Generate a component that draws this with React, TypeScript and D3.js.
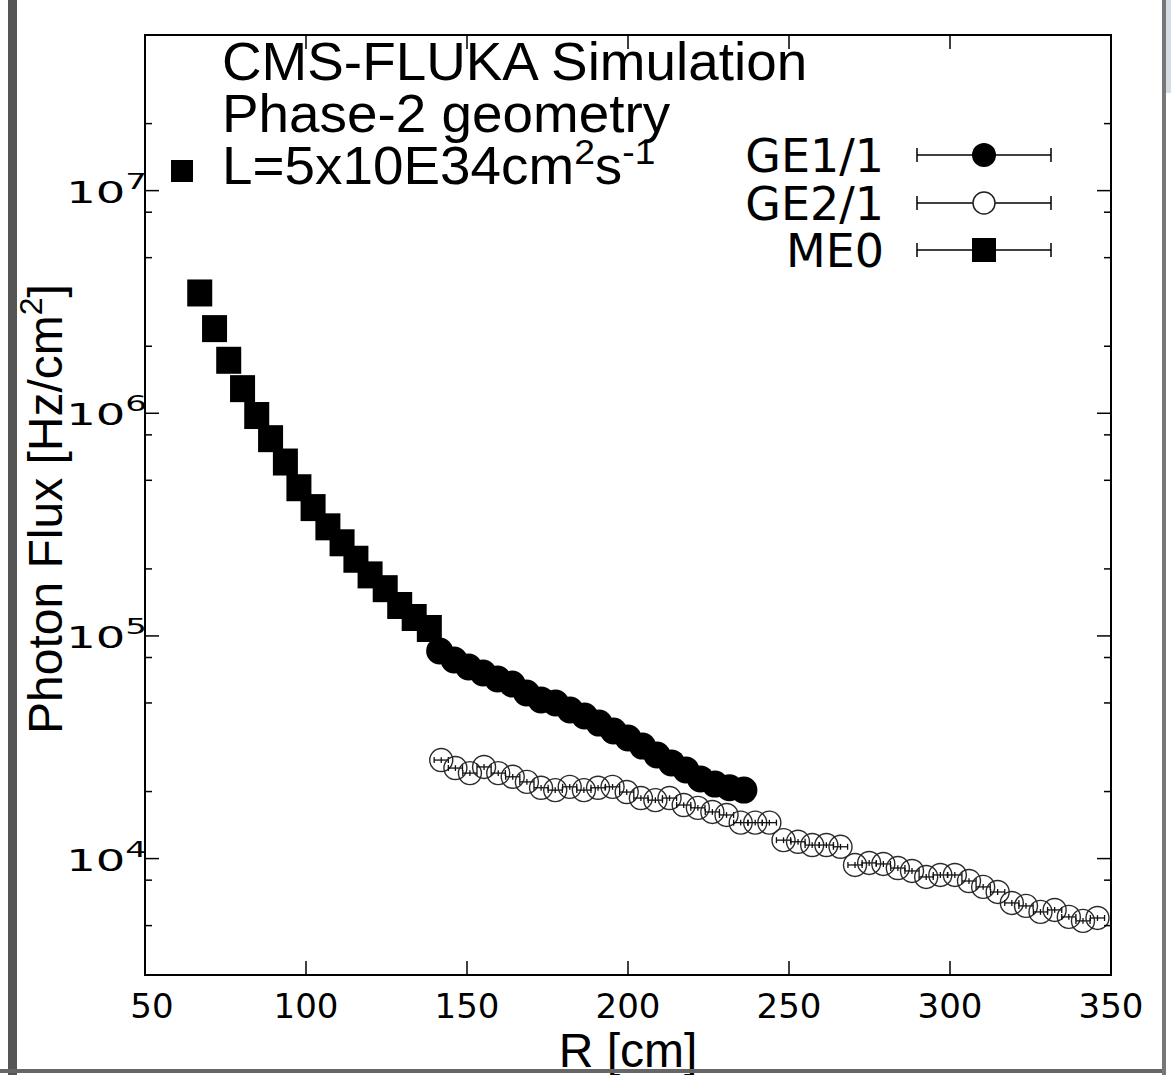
import React from "react";
import * as d3 from "d3";

// ---------------- data ----------------
const me0R = [67, 71.6, 76, 80.3, 84.7, 89, 93.6, 97.8, 102.2, 106.8, 111.2, 115.5, 119.9, 124.6, 129.1, 133.6, 138.3];
const me0Flux = [3.47e6, 2.4e6, 1.73e6, 1.29e6, 9.77e5, 7.69e5, 6.04e5, 4.63e5, 3.77e5, 3.09e5, 2.62e5, 2.21e5, 1.88e5, 1.63e5, 1.37e5, 1.21e5, 1.08e5];

const ge11R = [141.5, 146, 150.5, 155, 159.5, 164, 168.5, 173, 177.5, 182, 186.5, 191, 195.5, 200, 204.5, 209, 213.5, 218, 222.5, 227, 231.5, 236];
const ge11Flux = [85600, 78000, 72500, 68200, 64100, 60800, 55400, 51600, 50000, 46500, 43700, 40600, 37400, 34800, 32000, 29200, 26900, 25000, 22800, 21600, 20800, 20300];

const ge21R = [142.0, 146.4, 150.9, 155.3, 159.7, 164.2, 168.6, 173.0, 177.4, 181.9, 186.3, 190.7, 195.2, 199.6, 204.0, 208.5, 212.9, 217.3, 221.7, 226.2, 230.6, 235.0, 239.5, 243.9, 248.3, 252.8, 257.2, 261.6, 266.0, 270.5, 274.9, 279.3, 283.8, 288.2, 292.6, 297.0, 301.5, 305.9, 310.3, 314.8, 319.2, 323.6, 328.1, 332.5, 336.9, 341.3, 345.8];
const ge21Flux = [27700, 25500, 24200, 25800, 24200, 23300, 22100, 20800, 20300, 21000, 20300, 20800, 21000, 19900, 18700, 18300, 18700, 17400, 16900, 16200, 15700, 14500, 14500, 14500, 12100, 11900, 11500, 11500, 11300, 9360, 9560, 9460, 9070, 8800, 8270, 8440, 8440, 7930, 7460, 7080, 6320, 6130, 5760, 5880, 5470, 5250, 5410];

const binHalfWidth = 2.2; // cm, horizontal error bar
const relErr = 0.03;

const xTicks = [50, 100, 150, 200, 250, 300, 350];
const yMajorTicks = [1e4, 1e5, 1e6, 1e7];
const yMinorTicks = [5e3, 8e3, 2e4, 5e4, 8e4, 2e5, 5e5, 8e5, 2e6, 5e6, 8e6, 2e7];
const xDomain = [50, 350];
const yDomain = [3000, 5e7];

const titleLines = ["CMS-FLUKA Simulation", "Phase-2 geometry"];
const lumiParts = ["L=5x10E34cm", "2", "s", "-1"];
const legendLabels = ["GE1/1", "GE2/1", "ME0"];
const xLabel = "R [cm]";
const yLabelMain = "Photon Flux [Hz/cm";
const yLabelSup = "2";

// ---------------- component ----------------
export default function App() {
  const W = 1171, H = 1075;
  const L = 145, R = 1111, T = 35, B = 975;
  const x = d3.scaleLinear().domain(xDomain).range([L, R]);
  const y = d3.scaleLog().domain(yDomain).range([B, T]);

  const ink = "#000";
  const sansN = "'Liberation Sans', Arial, sans-serif";
  const dv = "'DejaVu Sans', sans-serif";

  const sq = 25;
  const rC = 13.5;
  const rO = 11.5;

  const legendY = [155, 203, 250];

  return (
    <svg width={W} height={H} style={{ position: "absolute", left: 0, top: 0, background: "#fff" }}>
      <rect x={0} y={0} width={W} height={H} fill="#fff" />

      {/* data: GE2/1 */}
      <g>
        {ge21R.map((r, i) => {
          const cx = x(r), cy = y(ge21Flux[i]);
          const x0 = x(r - binHalfWidth), x1 = x(r + binHalfWidth);
          const y0 = y(ge21Flux[i] * (1 - relErr)), y1 = y(ge21Flux[i] * (1 + relErr));
          return (
            <g key={"g21" + i}>
              <line x1={x0} x2={x1} y1={cy} y2={cy} stroke="#111" strokeWidth={1.3} />
              <line x1={x0} x2={x0} y1={cy - 3} y2={cy + 3} stroke="#111" strokeWidth={1.3} />
              <line x1={x1} x2={x1} y1={cy - 3} y2={cy + 3} stroke="#111" strokeWidth={1.3} />
              <line x1={cx} x2={cx} y1={y0} y2={y1} stroke="#111" strokeWidth={1.3} />
              <circle cx={cx} cy={cy} r={rO} fill="none" stroke="#2a2a2a" strokeWidth={1.4} />
            </g>
          );
        })}
      </g>

      {/* data: GE1/1 */}
      <g>
        {ge11R.map((r, i) => (
          <circle key={"g11" + i} cx={x(r)} cy={y(ge11Flux[i])} r={rC} fill={ink} />
        ))}
      </g>

      {/* data: ME0 */}
      <g>
        {me0R.map((r, i) => (
          <rect key={"me0" + i} x={x(r) - sq / 2} y={y(me0Flux[i]) - sq / 2 - 1} width={sq} height={sq + 2} fill={ink} />
        ))}
      </g>

      {/* frame */}
      <rect x={L} y={T} width={R - L} height={B - T} fill="none" stroke={ink} strokeWidth={2} />

      {/* x ticks */}
      {xTicks.map((t) => (
        <g key={"xt" + t}>
          <line x1={x(t)} x2={x(t)} y1={B} y2={B - 14} stroke={ink} strokeWidth={1.5} />
          <line x1={x(t)} x2={x(t)} y1={T} y2={T + 14} stroke={ink} strokeWidth={1.5} />
          <text x={x(t) + (t === 50 ? 7 : 0)} y={1018} textAnchor="middle" fontFamily={dv} fontSize={34} fill={ink}>
            {t}
          </text>
        </g>
      ))}

      {/* y ticks */}
      {yMajorTicks.map((t) => (
        <g key={"ym" + t}>
          <line x1={L} x2={L + 14} y1={y(t)} y2={y(t)} stroke={ink} strokeWidth={1.5} />
          <line x1={R} x2={R - 14} y1={y(t)} y2={y(t)} stroke={ink} strokeWidth={1.5} />
          <g transform={`translate(147, ${y(t) + 12}) scale(1.55, 1)`}>
            <text x={0} y={0} textAnchor="end" fontFamily={dv} fontSize={30} fill={ink}>
              <tspan>10</tspan>
              <tspan fontSize={22} dy={-14}>{String(Math.round(Math.log10(t)))}</tspan>
            </text>
          </g>
        </g>
      ))}
      {yMinorTicks.map((t) => (
        <g key={"yn" + t}>
          <line x1={L} x2={L + 7} y1={y(t)} y2={y(t)} stroke={ink} strokeWidth={1.5} />
          <line x1={R} x2={R - 7} y1={y(t)} y2={y(t)} stroke={ink} strokeWidth={1.5} />
        </g>
      ))}

      {/* axis labels */}
      <text x={x(200)} y={1067} textAnchor="middle" fontFamily={sansN} fontSize={48} fill={ink}>
        {xLabel}
      </text>
      <text transform="translate(62, 509) rotate(-90)" textAnchor="middle" fontFamily={sansN} fontSize={48} fill={ink}>
        {yLabelMain}
        <tspan fontSize={32} dy={-20}>{yLabelSup}</tspan>
        <tspan dy={20}>]</tspan>
      </text>

      {/* title block */}
      <g transform="translate(222, 0) scale(1.035, 1)">
        {titleLines.map((s, i) => (
          <text key={"tl" + i} x={0} y={80 + i * 52} fontFamily={sansN} fontSize={53} fill={ink}>
            {s}
          </text>
        ))}
        <text x={0} y={184} fontFamily={sansN} fontSize={53} fill={ink}>
          {lumiParts[0]}
          <tspan fontSize={36} dy={-20}>{lumiParts[1]}</tspan>
          <tspan dy={20}>{lumiParts[2]}</tspan>
          <tspan fontSize={36} dy={-20}>{lumiParts[3]}</tspan>
        </text>
      </g>
      <rect x={171} y={160} width={22} height={22} fill={ink} />

      {/* legend */}
      {legendLabels.map((lab, i) => {
        const ly = legendY[i];
        const mx = 984;
        return (
          <g key={"lg" + i}>
            <text x={884} y={ly + 17} textAnchor="end" fontFamily={dv} fontSize={46} fill={ink}>
              {lab}
            </text>
            <line x1={917} x2={1051} y1={ly} y2={ly} stroke={ink} strokeWidth={1.5} />
            <line x1={917} x2={917} y1={ly - 7} y2={ly + 7} stroke={ink} strokeWidth={1.5} />
            <line x1={1051} x2={1051} y1={ly - 7} y2={ly + 7} stroke={ink} strokeWidth={1.5} />
            {i === 0 && <circle cx={mx} cy={ly} r={12} fill={ink} />}
            {i === 1 && <circle cx={mx} cy={ly} r={11} fill="#fff" stroke="#222" strokeWidth={1.5} />}
            {i === 2 && <rect x={mx - 12} y={ly - 12} width={24} height={24} fill={ink} />}
          </g>
        );
      })}

      {/* slide borders */}
      <rect x={8} y={0} width={9} height={H} fill="#555" />
      <rect x={0} y={1069} width={1166} height={4} fill="#666" />
      <rect x={1162} y={0} width={4} height={H} fill="#777" />
      <rect x={1166} y={0} width={5} height={93} fill="#d5dde3" />
    </svg>
  );
}
